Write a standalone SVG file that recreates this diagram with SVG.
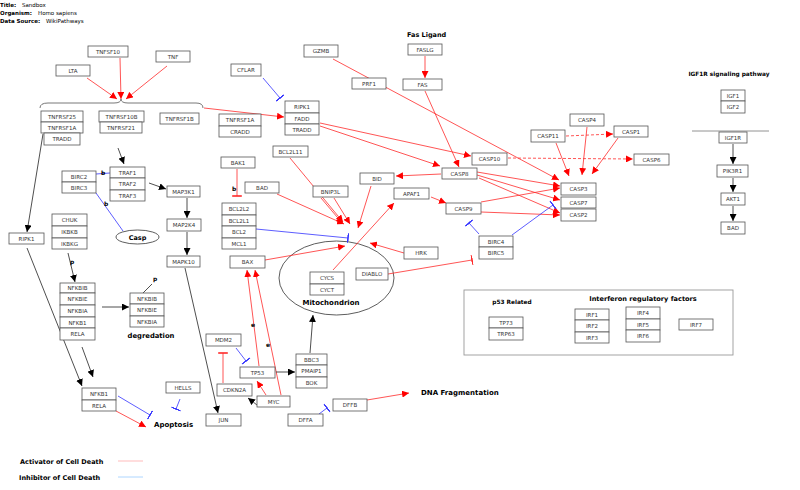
<svg xmlns="http://www.w3.org/2000/svg" width="800" height="490" viewBox="0 0 800 490">
<defs>
<style>
.n rect{fill:#fff;stroke:#555;stroke-width:0.8}
.n text{font-family:"DejaVu Sans",sans-serif;font-size:5.5px;fill:#333;text-anchor:middle}
.lbl{font-family:"DejaVu Sans",sans-serif;font-weight:bold;fill:#000}
.hd{font-family:"DejaVu Sans",sans-serif;font-size:5.5px;fill:#000}
.r{stroke:#ff2a2a;stroke-width:0.8;fill:none}
.k{stroke:#222;stroke-width:0.8;fill:none}
.b{stroke:#3333ff;stroke-width:0.8;fill:none}
.ar{marker-end:url(#ar)}
.ak{marker-end:url(#ak)}
.tb{marker-end:url(#tb)}
.tr{marker-end:url(#tr)}
.d{stroke-dasharray:3,2}
</style>
<marker id="ar" viewBox="0 0 10 10" refX="10" refY="5" markerWidth="7" markerHeight="7" markerUnits="userSpaceOnUse" orient="auto"><path d="M0,0 L10,5 L0,10 z" fill="#ff0000"/></marker>
<marker id="ak" viewBox="0 0 10 10" refX="10" refY="5" markerWidth="7" markerHeight="7" markerUnits="userSpaceOnUse" orient="auto"><path d="M0,0 L10,5 L0,10 z" fill="#000"/></marker>
<marker id="tb" viewBox="0 0 2 12" refX="1" refY="6" markerWidth="1.6" markerHeight="11" markerUnits="userSpaceOnUse" orient="auto"><rect x="0" y="0" width="2" height="12" fill="#3333ff"/></marker>
<marker id="tr" viewBox="0 0 2 12" refX="1" refY="6" markerWidth="1.6" markerHeight="11" markerUnits="userSpaceOnUse" orient="auto"><rect x="0" y="0" width="2" height="12" fill="#ff2a2a"/></marker>
</defs>
<rect width="800" height="490" fill="#fff"/>

<g id="header">
<text class="hd" x="0" y="7" font-weight="bold">Title:</text><text class="hd" x="22" y="7">Sandbox</text>
<text class="hd" x="0" y="15" font-weight="bold">Organism:</text><text class="hd" x="38" y="15">Homo sapiens</text>
<text class="hd" x="0" y="23" font-weight="bold">Data Source:</text><text class="hd" x="46" y="23">WikiPathways</text>
</g>

<g id="shapes">
<path d="M40,108 Q40,103 48,103 L114,103 Q121,103 121,99 Q121,103 128,103 L196,103 Q203,103 203,108" fill="none" stroke="#555" stroke-width="0.8"/>
<ellipse id="mitochondrion" cx="336.5" cy="278" rx="57.5" ry="37" fill="none" stroke="#333" stroke-width="0.8"/>
<ellipse id="casp" cx="137.5" cy="237" rx="21.5" ry="7" fill="#fff" stroke="#333" stroke-width="0.8"/>
<rect id="group-box" x="464" y="290" width="269" height="65" fill="none" stroke="#999" stroke-width="0.9"/>
<line x1="692" y1="131" x2="769" y2="131" stroke="#777" stroke-width="0.8"/>
</g>

<g id="connectors">
<path class="r ar" d="M87,78 L117,99"/>
<path class="r ar" d="M120,58 L121,99"/>
<path class="r ar" d="M167,66 L126,99"/>
<path class="r ar" d="M204,108 L284,117"/>
<path class="r ar" d="M333,59 L559,180"/>
<path class="r ar" d="M425,56 L425,78"/>
<path class="r ar" d="M425,91 L459,167"/>
<path class="r ar" d="M320,123 L471,156"/>
<path class="r ar" d="M320,126 L440,166"/>
<path class="r ar" d="M277,194 L344,224"/>
<path class="r ar" d="M290,158 L343,222"/>
<path class="r ar" d="M321,198 L343,224"/>
<path class="r ar" d="M334,198 L350,224"/>
<path class="r ar" d="M371,186 L358,228"/>
<path class="r ar" d="M265,260 L345,246"/>
<path class="r ar" d="M333,270 L394,203"/>
<path class="r ar" d="M404,253 L370,243"/>
<path class="r ar" d="M441,174 L396,176"/>
<path class="r ar" d="M477,172 L560,186"/>
<path class="r ar" d="M477,175 L560,200"/>
<path class="r ar" d="M479,178 L560,213"/>
<path class="r ar" d="M431,197 L446,203"/>
<path class="r ar" d="M481,202 L560,188"/>
<path class="r ar" d="M481,212 L560,215"/>
<path class="r ar" d="M556,143 L569,176"/>
<path class="r ar" d="M587,127 L582,175"/>
<path class="r ar" d="M618,138 L592,174"/>
<path class="r ar d" d="M566,136 L613,134"/>
<path class="r ar d" d="M508,158 L633,159"/>
<path class="r ar" d="M367,400 L409,393"/>
<path class="r ar" d="M266,395 L257,381"/>
<path class="r ar" d="M281,395 L255,270"/>
<path class="r ar" d="M259,366 L247,270"/>
<path class="r ar" d="M116,411 L146,427"/>

<path class="k ak" d="M118,148 L124,164"/>
<path class="k ak" d="M43,134 L27,232"/>
<path class="k ak" d="M149,183 L166,189"/>
<path class="k ak" d="M187,198 L187,218"/>
<path class="k ak" d="M187,232 L187,255"/>
<path class="k ak" d="M185,268 L218,413"/>
<path class="k ak" d="M68,253 L75,282"/>
<path class="k ak" d="M102,307 L129,307"/>
<path class="k ak" d="M27,248 L82,386"/>
<path class="k ak" d="M82,347 L93,377"/>
<path class="k ak" d="M276,372 L295,372"/>
<path class="k ak" d="M257,405 L248,398"/>
<path class="k ak" d="M310,353 L313,315"/>
<path class="k ak" d="M733,144 L733,164"/>
<path class="k ak" d="M733,178 L733,192"/>
<path class="k ak" d="M733,206 L733,221"/>
<path class="k" d="M143,293 L152,284"/>

<path class="b tb" d="M263,78 L280,98"/>
<path class="b" d="M96,174 L110,173"/>
<path class="b" d="M96,193 L123,231"/>
<path class="b tb" d="M256,229 L348,238"/>
<path class="b tb" d="M479,234 L469,223"/>
<path class="b tb" d="M512,235 L553,205"/>
<path class="b tb" d="M236,348 L246,361"/>
<path class="b tb" d="M319,414 L327,408"/>
<path class="b tb" d="M118,396 L150,415"/>
<path class="b tb" d="M180,399 L176,409"/>

<path class="r tr" d="M237,169 L237,196"/>
<path class="r tr" d="M223,383 L223,353"/>
<path class="r tr" d="M388,274 L472,260"/>

<path d="M118,461 L143,461" stroke="#ffaaaa" stroke-width="0.8"/>
<path d="M118,477 L143,477" stroke="#99ccff" stroke-width="0.8"/>
</g>

<g id="edge-labels" class="lbl" font-size="6">
<text x="101" y="175">b</text>
<text x="104" y="206">b</text>
<text x="232" y="191">b</text>
<text x="70" y="264">p</text>
<text x="153" y="281">p</text>
<text x="251" y="327">e</text>
<text x="266" y="347">e</text>
</g>

<g id="TNFSF10" class="n"><rect x="88" y="46" width="40" height="11"/><text x="108" y="53.5">TNFSF10</text></g>
<g id="TNF" class="n"><rect x="156" y="51" width="34" height="11"/><text x="173" y="58.5">TNF</text></g>
<g id="LTA" class="n"><rect x="56" y="65" width="34" height="11"/><text x="73" y="72.5">LTA</text></g>
<g id="TNFRSF25-group" class="n">
<rect x="41" y="111" width="42" height="11"/><text x="62" y="118.5">TNFRSF25</text>
<rect x="41" y="122" width="42" height="11"/><text x="62" y="129.5">TNFRSF1A</text>
<rect x="44" y="133" width="36" height="12"/><text x="62" y="141">TRADD</text></g>
<g id="TNFRSF10B-group" class="n">
<rect x="99" y="111" width="45" height="11"/><text x="121.5" y="118.5">TNFRSF10B</text>
<rect x="100" y="122" width="42" height="11"/><text x="121" y="129.5">TNFRSF21</text></g>
<g id="TNFRSF1B" class="n"><rect x="160" y="113" width="39" height="11"/><text x="179.5" y="120.5">TNFRSF1B</text></g>
<g id="CFLAR" class="n"><rect x="231" y="64" width="30" height="12"/><text x="246" y="72">CFLAR</text></g>
<g id="GZMB" class="n"><rect x="304" y="45" width="34" height="12"/><text x="321" y="53">GZMB</text></g>
<g id="PRF1" class="n"><rect x="352" y="78" width="34" height="11"/><text x="369" y="85.5">PRF1</text></g>
<g id="RIPK1-FADD-group" class="n">
<rect x="285" y="101" width="34" height="12"/><text x="302" y="109">RIPK1</text>
<rect x="285" y="113" width="34" height="11"/><text x="302" y="120.5">FADD</text>
<rect x="285" y="124" width="34" height="11"/><text x="302" y="131.5">TRADD</text></g>
<g id="TNFRSF1A-CRADD-group" class="n">
<rect x="219" y="114" width="42" height="12"/><text x="240" y="122">TNFRSF1A</text>
<rect x="219" y="126" width="42" height="11"/><text x="240" y="133.5">CRADD</text></g>
<g id="BCL2L11" class="n"><rect x="273" y="146" width="35" height="11"/><text x="290.5" y="153.5">BCL2L11</text></g>
<g id="FASLG" class="n"><rect x="408" y="44" width="34" height="11"/><text x="425" y="51.5">FASLG</text></g>
<g id="FAS" class="n"><rect x="403" y="79" width="39" height="11"/><text x="422.5" y="86.5">FAS</text></g>
<g id="CASP4" class="n"><rect x="570" y="114" width="34" height="12"/><text x="587" y="122">CASP4</text></g>
<g id="CASP11" class="n"><rect x="531" y="130" width="34" height="12"/><text x="548" y="138">CASP11</text></g>
<g id="CASP1" class="n"><rect x="614" y="126" width="34" height="11"/><text x="631" y="133.5">CASP1</text></g>
<g id="CASP10" class="n"><rect x="472" y="153" width="35" height="12"/><text x="489.5" y="161">CASP10</text></g>
<g id="CASP6" class="n"><rect x="634" y="154" width="35" height="11"/><text x="651.5" y="161.5">CASP6</text></g>
<g id="CASP8" class="n"><rect x="442" y="168" width="35" height="11"/><text x="459.5" y="175.5">CASP8</text></g>
<g id="BID" class="n"><rect x="360" y="173" width="34" height="11"/><text x="377" y="180.5">BID</text></g>
<g id="APAF1" class="n"><rect x="394" y="188" width="35" height="11"/><text x="411.5" y="195.5">APAF1</text></g>
<g id="CASP9" class="n"><rect x="446" y="203" width="35" height="11"/><text x="463.5" y="210.5">CASP9</text></g>
<g id="CASP3" class="n"><rect x="561" y="183" width="35" height="12"/><text x="578.5" y="191">CASP3</text></g>
<g id="CASP7" class="n"><rect x="561" y="197" width="35" height="11"/><text x="578.5" y="204.5">CASP7</text></g>
<g id="CASP2" class="n"><rect x="561" y="209" width="35" height="12"/><text x="578.5" y="217">CASP2</text></g>
<g id="BIRC4-group" class="n">
<rect x="479" y="236" width="34" height="11"/><text x="496" y="243.5">BIRC4</text>
<rect x="479" y="247" width="34" height="12"/><text x="496" y="255">BIRC5</text></g>
<g id="HRK" class="n"><rect x="404" y="247" width="34" height="12"/><text x="421" y="255">HRK</text></g>
<g id="BAK1" class="n"><rect x="221" y="157" width="34" height="11"/><text x="238" y="164.5">BAK1</text></g>
<g id="BAD" class="n"><rect x="245" y="182" width="34" height="11"/><text x="262" y="189.5">BAD</text></g>
<g id="BCL2-group" class="n">
<rect x="222" y="203" width="34" height="12"/><text x="239" y="211">BCL2L2</text>
<rect x="222" y="215" width="34" height="11"/><text x="239" y="222.5">BCL2L1</text>
<rect x="222" y="226" width="34" height="12"/><text x="239" y="234">BCL2</text>
<rect x="222" y="238" width="34" height="11"/><text x="239" y="245.5">MCL1</text></g>
<g id="BAX" class="n"><rect x="230" y="256" width="35" height="12"/><text x="247.5" y="264">BAX</text></g>
<g id="BNIP3L" class="n"><rect x="313" y="186" width="35" height="11"/><text x="330.5" y="193.5">BNIP3L</text></g>
<g id="CYCS-group" class="n">
<rect x="310" y="272" width="34" height="12"/><text x="327" y="280">CYCS</text>
<rect x="310" y="284" width="34" height="11"/><text x="327" y="291.5">CYCT</text></g>
<g id="DIABLO" class="n"><rect x="356" y="268" width="32" height="12"/><text x="372" y="276">DIABLO</text></g>
<g id="BIRC2-group" class="n">
<rect x="62" y="171" width="34" height="11"/><text x="79" y="178.5">BIRC2</text>
<rect x="62" y="182" width="34" height="11"/><text x="79" y="189.5">BIRC3</text></g>
<g id="TRAF-group" class="n">
<rect x="110" y="167" width="35" height="11"/><text x="127.5" y="174.5">TRAF1</text>
<rect x="110" y="178" width="35" height="12"/><text x="127.5" y="186">TRAF2</text>
<rect x="110" y="190" width="35" height="11"/><text x="127.5" y="197.5">TRAF3</text></g>
<g id="MAP3K1" class="n"><rect x="167" y="186" width="33" height="11"/><text x="183.5" y="193.5">MAP3K1</text></g>
<g id="MAP2K4" class="n"><rect x="167" y="219" width="34" height="12"/><text x="184" y="227">MAP2K4</text></g>
<g id="MAPK10" class="n"><rect x="167" y="256" width="33" height="11"/><text x="183.5" y="263.5">MAPK10</text></g>
<g id="RIPK1" class="n"><rect x="9" y="233" width="35" height="11"/><text x="26.5" y="240.5">RIPK1</text></g>
<g id="IKK-group" class="n">
<rect x="52" y="214" width="35" height="12"/><text x="69.5" y="222">CHUK</text>
<rect x="52" y="226" width="35" height="12"/><text x="69.5" y="234">IKBKB</text>
<rect x="52" y="238" width="35" height="11"/><text x="69.5" y="245.5">IKBKG</text></g>
<g id="NFKBI-complex" class="n">
<rect x="60" y="283" width="35" height="10"/><text x="77.5" y="290">NFKBIB</text>
<rect x="60" y="293" width="35" height="12"/><text x="77.5" y="301">NFKBIE</text>
<rect x="60" y="305" width="35" height="12"/><text x="77.5" y="313">NFKBIA</text>
<rect x="60" y="317" width="35" height="11"/><text x="77.5" y="324.5">NFKB1</text>
<rect x="60" y="328" width="35" height="12"/><text x="77.5" y="336">RELA</text></g>
<g id="NFKBI-degraded" class="n">
<rect x="130" y="293" width="34" height="11"/><text x="147" y="300.5">NFKBIB</text>
<rect x="130" y="304" width="34" height="12"/><text x="147" y="312">NFKBIE</text>
<rect x="130" y="316" width="34" height="11"/><text x="147" y="323.5">NFKBIA</text></g>
<g id="NFKB1-RELA" class="n">
<rect x="82" y="388" width="34" height="12"/><text x="99" y="396">NFKB1</text>
<rect x="82" y="400" width="34" height="11"/><text x="99" y="407.5">RELA</text></g>
<g id="HELLS" class="n"><rect x="166" y="382" width="34" height="11"/><text x="183" y="389.5">HELLS</text></g>
<g id="MDM2" class="n"><rect x="206" y="334" width="35" height="12"/><text x="223.5" y="342">MDM2</text></g>
<g id="TP53" class="n"><rect x="240" y="367" width="35" height="11"/><text x="257.5" y="374.5">TP53</text></g>
<g id="CDKN2A" class="n"><rect x="217" y="384" width="35" height="12"/><text x="234.5" y="392">CDKN2A</text></g>
<g id="MYC" class="n"><rect x="257" y="396" width="33" height="11"/><text x="273.5" y="403.5">MYC</text></g>
<g id="JUN" class="n"><rect x="206" y="414" width="35" height="12"/><text x="223.5" y="422">JUN</text></g>
<g id="DFFA" class="n"><rect x="288" y="414" width="35" height="12"/><text x="305.5" y="422">DFFA</text></g>
<g id="DFFB" class="n"><rect x="333" y="399" width="34" height="12"/><text x="350" y="407">DFFB</text></g>
<g id="BBC3-group" class="n">
<rect x="296" y="354" width="31" height="11"/><text x="311.5" y="361.5">BBC3</text>
<rect x="296" y="365" width="31" height="12"/><text x="311.5" y="373">PMAIP1</text>
<rect x="296" y="377" width="31" height="11"/><text x="311.5" y="384.5">BOK</text></g>
<g id="IGF-group" class="n">
<rect x="721" y="90" width="24" height="11"/><text x="733" y="97.5">IGF1</text>
<rect x="721" y="101" width="24" height="12"/><text x="733" y="109">IGF2</text></g>
<g id="IGF1R" class="n"><rect x="719" y="132" width="28" height="11"/><text x="733" y="139.5">IGF1R</text></g>
<g id="PIK3R1" class="n"><rect x="717" y="165" width="31" height="12"/><text x="732.5" y="173">PIK3R1</text></g>
<g id="AKT1" class="n"><rect x="721" y="193" width="24" height="12"/><text x="733" y="201">AKT1</text></g>
<g id="BAD-igf" class="n"><rect x="721" y="222" width="24" height="12"/><text x="733" y="230">BAD</text></g>
<g id="p53-related" class="n">
<rect x="489" y="317" width="34" height="11"/><text x="506" y="324.5">TP73</text>
<rect x="489" y="328" width="34" height="12"/><text x="506" y="336">TRP63</text></g>
<g id="IRF1-3" class="n">
<rect x="575" y="309" width="34" height="11"/><text x="592" y="316.5">IRF1</text>
<rect x="575" y="320" width="34" height="12"/><text x="592" y="328">IRF2</text>
<rect x="575" y="332" width="34" height="11"/><text x="592" y="339.5">IRF3</text></g>
<g id="IRF4-6" class="n">
<rect x="626" y="307" width="34" height="12"/><text x="643" y="315">IRF4</text>
<rect x="626" y="319" width="34" height="11"/><text x="643" y="326.5">IRF5</text>
<rect x="626" y="330" width="34" height="12"/><text x="643" y="338">IRF6</text></g>
<g id="IRF7" class="n"><rect x="679" y="319" width="34" height="11"/><text x="696" y="326.5">IRF7</text></g>

<g id="labels" class="lbl">
<text x="407" y="36.5" font-size="6.5">Fas Ligand</text>
<text x="729" y="76" font-size="5.8" text-anchor="middle">IGF1R signaling pathway</text>
<text x="137.5" y="239.5" font-size="6.5" text-anchor="middle">Casp</text>
<text x="331" y="305" font-size="7" text-anchor="middle">Mitochondrion</text>
<text x="151" y="338" font-size="6.8" text-anchor="middle">degredation</text>
<text x="154" y="427" font-size="7">Apoptosis</text>
<text x="421" y="395" font-size="7">DNA Fragmentation</text>
<text x="512" y="304" font-size="5.8" text-anchor="middle">p53 Related</text>
<text x="643" y="301" font-size="6.6" text-anchor="middle">Interferon regulatory factors</text>
<text x="20" y="464" font-size="6.5">Activator of Cell Death</text>
<text x="19" y="479.5" font-size="6.5">Inhibitor of Cell Death</text>
</g>
</svg>
